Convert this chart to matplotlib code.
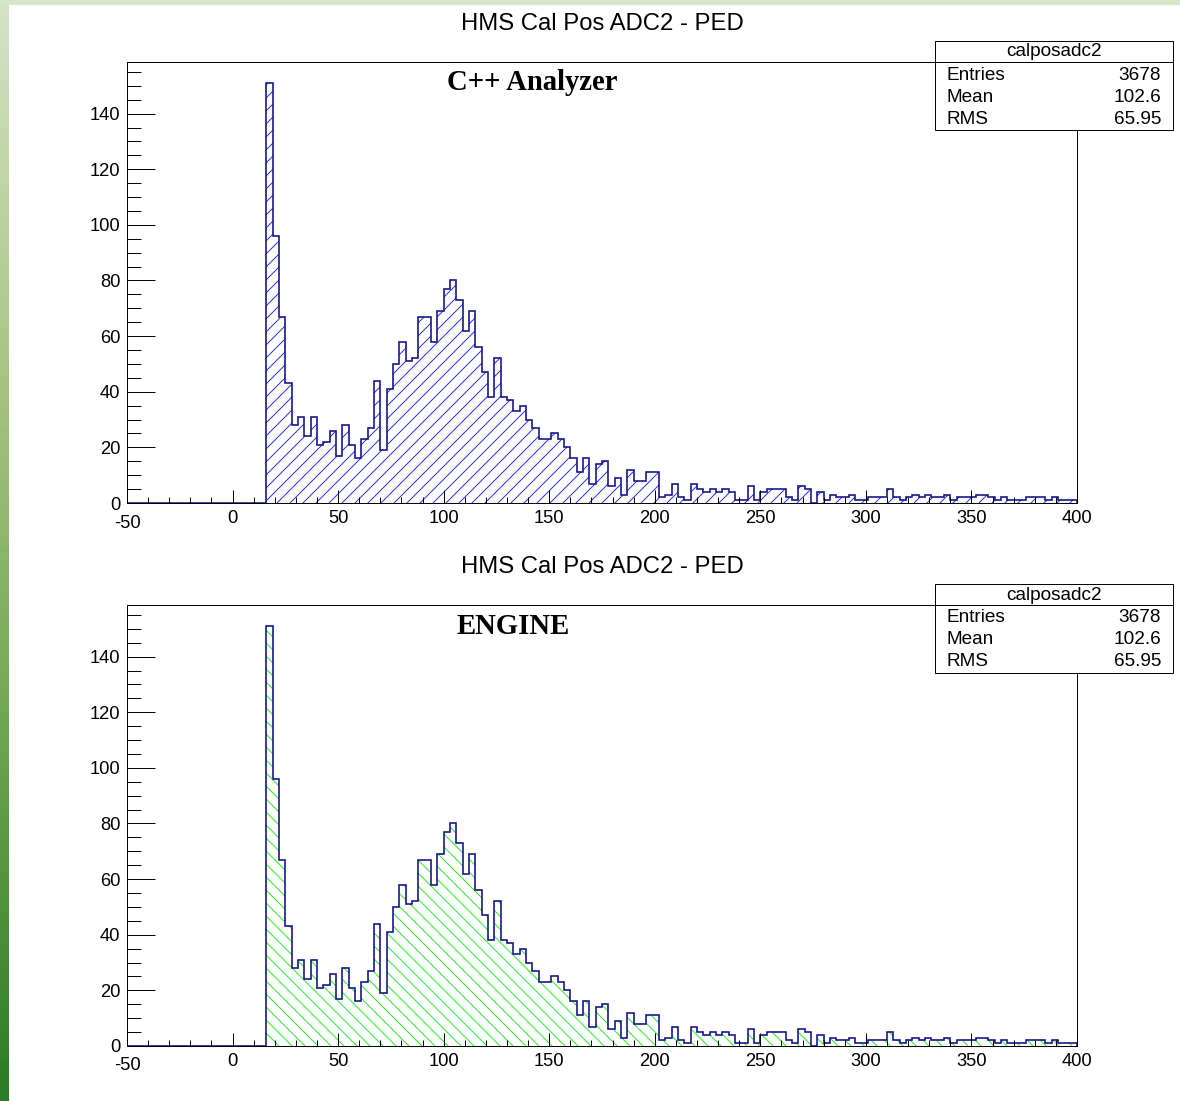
import numpy as np
import matplotlib.pyplot as plt
from matplotlib.patches import Rectangle
from matplotlib.lines import Line2D
from matplotlib.ticker import MultipleLocator, FuncFormatter
from matplotlib.colors import LinearSegmentedColormap

W, H = 1180, 1101
DPI = 78

plt.rcParams['font.family'] = ['Liberation Sans', 'DejaVu Sans']
plt.rcParams['hatch.linewidth'] = 0.9

# HMS calorimeter pos ADC2 minus pedestal, 3-channel bins on [-50, 400)
bin_lo, bin_hi, bin_w = -50, 400, 3
first_filled = 16

counts_cpp = [
    151, 96, 67, 43, 28, 31, 24, 31, 21, 22, 26, 17, 28, 21, 16, 23,
    27, 44, 19, 41, 50, 58, 51, 52, 67, 67, 58, 69, 77, 80, 73, 62,
    69, 56, 47, 38, 52, 38, 37, 33, 35, 30, 27, 23, 23, 25, 23, 20,
    16, 11, 16, 7, 14, 15, 6, 9, 3, 12, 8, 8, 11, 11, 2, 3,
    7, 2, 1, 7, 5, 4, 5, 4, 5, 4, 1, 1, 6, 1, 4, 5,
    5, 5, 2, 1, 6, 5, 0, 4, 1, 3, 2, 2, 3, 1, 1, 2,
    2, 2, 5, 2, 1, 2, 3, 2, 3, 2, 2, 3, 1, 2, 2, 2,
    3, 3, 2, 1, 2, 1, 1, 1, 2, 2, 2, 1, 2, 1, 1, 1,
]
counts_engine = list(counts_cpp)

hist_title = 'HMS Cal Pos ADC2 - PED'
hist_name = 'calposadc2'
stat_labels = ['Entries', 'Mean', 'RMS']
stat_values = ['3678', '102.6', '65.95']


def fx(px):
    return px / W


def fy(py):
    return 1 - py / H


def full_hist(counts):
    edges = np.arange(bin_lo, bin_hi + bin_w, bin_w)
    vals = np.zeros(len(edges) - 1)
    start = (first_filled - bin_lo) // bin_w
    vals[start:start + len(counts)] = counts
    return edges, vals


def xlabel_fmt(v, pos):
    # the leftmost label is drawn separately, tucked under the y "0"
    return '' if v <= bin_lo else f'{v:g}'


def draw_pad(fig, dy, counts, label, label_x, hatch, hatch_color):
    ax = fig.add_axes([fx(127), fy(503 + dy), fx(1077) - fx(127),
                       fy(62 + dy) - fy(503 + dy)])
    edges, vals = full_hist(counts)
    ax.stairs(vals, edges, fill=True, facecolor='none', edgecolor=hatch_color,
              hatch=hatch, linewidth=0)
    ax.stairs(vals, edges, color='#14148a', linewidth=1.5)

    ax.set_xlim(bin_lo, bin_hi)
    ax.set_ylim(0, 1.05 * max(counts))
    ax.xaxis.set_major_locator(MultipleLocator(50))
    ax.xaxis.set_minor_locator(MultipleLocator(10))
    ax.xaxis.set_major_formatter(FuncFormatter(xlabel_fmt))
    ax.yaxis.set_major_locator(MultipleLocator(20))
    ax.yaxis.set_minor_locator(MultipleLocator(5))
    ax.tick_params(which='both', direction='in', top=False, right=False,
                   width=0.9, color='black', labelsize=17)
    ax.tick_params(axis='x', which='major', length=12, pad=6.5)
    ax.tick_params(axis='x', which='minor', length=6)
    ax.tick_params(axis='y', which='major', length=26, pad=6)
    ax.tick_params(axis='y', which='minor', length=13)
    for s in ax.spines.values():
        s.set_linewidth(0.9)
    fig.text(fx(127), fy(523 + dy), f'{bin_lo}', ha='center', va='center',
             fontsize=17)

    fig.text(fx(602), fy(24 + dy), hist_title, ha='center', va='center',
             fontsize=22)
    fig.text(fx(label_x), fy(83 + dy), label, ha='center', va='center',
             fontsize=26.5, fontweight='bold', family='Liberation Serif')

    # statistics box
    fig.add_artist(Rectangle((fx(935), fy(130 + dy)), fx(1173) - fx(935),
                             fy(41 + dy) - fy(130 + dy),
                             transform=fig.transFigure, facecolor='white',
                             edgecolor='black', linewidth=0.9, zorder=5))
    fig.add_artist(Line2D([fx(935), fx(1173)], [fy(62 + dy), fy(62 + dy)],
                          transform=fig.transFigure, color='black',
                          linewidth=0.9, zorder=6))
    fig.text(fx(1054), fy(52 + dy), hist_name, ha='center', va='center',
             fontsize=17.5, zorder=7)
    for i, (name, val) in enumerate(zip(stat_labels, stat_values)):
        y = fy(75 + 22 * i + dy)
        fig.text(fx(946), y, name, ha='left', va='center', fontsize=17.5,
                 zorder=7)
        fig.text(fx(1161), y, val, ha='right', va='center', fontsize=17.5,
                 zorder=7)
    return ax


fig = plt.figure(figsize=(W / DPI, H / DPI), dpi=DPI)
fig.patch.set_facecolor('white')

# slide border: green gradient on the left, pale band along the top
edge = fig.add_axes([0, 0, fx(9), 1])
edge.imshow(np.linspace(0, 1, 256).reshape(-1, 1), aspect='auto',
            cmap=LinearSegmentedColormap.from_list(
                'edge', ['#d5e3c7', '#a9c585', '#6fa552', '#2b7a25']))
edge.set_axis_off()
top = fig.add_axes([0, fy(5), 1, 5 / H])
top.set_facecolor('#d6e4ca')
top.set_xticks([])
top.set_yticks([])
for s in top.spines.values():
    s.set_visible(False)

draw_pad(fig, 0, counts_cpp, 'C++ Analyzer', 532, '//', '#2a2aff')
draw_pad(fig, 543, counts_engine, 'ENGINE', 513, '\\\\', '#22ee22')

fig.savefig('out.png', dpi=DPI)
